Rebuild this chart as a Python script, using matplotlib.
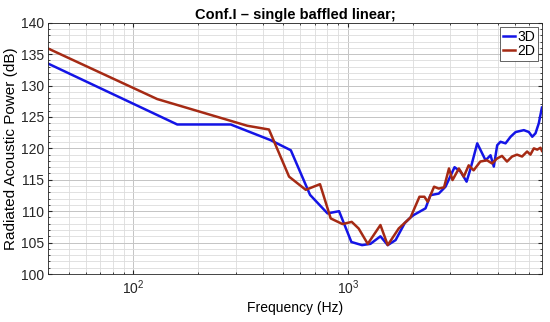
import matplotlib
matplotlib.use("Agg")
import matplotlib.pyplot as plt
from matplotlib.ticker import MultipleLocator, LogLocator, NullFormatter

plt.rcParams['font.family'] = ['Liberation Sans', 'DejaVu Sans']

f3d = [40, 160, 284, 436, 541, 665, 802, 908, 1036, 1162, 1271, 1415, 1530, 1665, 1836, 1954,
       2024, 2295, 2420, 2645, 2844, 3134, 3343, 3566, 3722, 3997, 4371, 4610, 4775, 4952,
       5130, 5415, 5717, 6035, 6590, 6955, 7213, 7469, 7738, 8000]
p3d = [133.5, 123.8, 123.8, 121.3, 119.7, 112.6, 109.65, 110.0, 105.1, 104.6, 104.8, 106.0, 104.6, 105.4, 108.1, 109.0,
       109.4, 110.45, 112.55, 112.8, 113.9, 117.0, 116.3, 114.7, 116.8, 120.8, 118.1, 118.9, 117.1, 120.5,
       121.05, 120.8, 121.85, 122.6, 122.9, 122.6, 121.85, 122.4, 124.0, 126.5]

f2d = [40, 129, 339, 428, 531, 635, 740, 830, 942, 1040, 1120, 1235, 1415, 1530, 1722, 1954,
       2151, 2268, 2350, 2516, 2645, 2800, 2952, 3066, 3283, 3460, 3647, 3845, 4131, 4437,
       4687, 4952, 5214, 5500, 5808, 6125, 6466, 6824, 7070, 7335, 7610, 7880, 8000]
p2d = [135.9, 127.85, 123.6, 123.0, 115.5, 113.4, 114.3, 108.85, 107.95, 108.3, 107.25, 104.8, 107.8, 104.6, 107.25, 109.0,
       112.3, 112.3, 111.5, 113.9, 113.6, 113.8, 116.8, 114.95, 116.8, 115.5, 117.3, 116.5, 117.9, 118.1,
       117.6, 118.4, 118.8, 117.9, 118.7, 119.0, 118.7, 119.5, 119.0, 120.0, 119.8, 120.1, 119.6]

title = "Conf.I \u2013 single baffled linear;"
xlabel = "Frequency (Hz)"
ylabel = "Radiated Acoustic Power (dB)"

fig = plt.figure(figsize=(5.5, 3.22), dpi=100)
ax = fig.add_axes([0.0873, 0.149, 0.898, 0.7805])
ax.semilogx(f3d, p3d, color='#1414E6', lw=1.8, label='3D')
ax.semilogx(f2d, p2d, color='#A52A14', lw=1.8, label='2D')
ax.set_xlim(40, 8000)
ax.set_ylim(100, 140)
ax.yaxis.set_major_locator(MultipleLocator(5))
ax.yaxis.set_minor_locator(MultipleLocator(1))
ax.xaxis.set_major_locator(LogLocator(base=10))
ax.xaxis.set_minor_locator(LogLocator(base=10, subs=range(2, 10)))
ax.xaxis.set_minor_formatter(NullFormatter())
ax.grid(True, which='major', color='#c4c4c4', lw=0.7)
ax.grid(True, which='minor', color='#dcdcdc', lw=0.6)
ax.tick_params(which='both', direction='in', labelsize=10, colors='#262626', top=True, right=True)
ax.tick_params(which='major', length=3, pad=3)
ax.tick_params(which='minor', length=1.5)
for s in ax.spines.values():
    s.set_color('#262626')
    s.set_linewidth(0.6)
ax.set_xlabel(xlabel, fontsize=10, labelpad=3)
ax.set_ylabel(ylabel, fontsize=11, labelpad=2)
ax.set_title(title, fontsize=10.5, fontweight='bold', pad=3)
leg = ax.legend(loc='upper right', fontsize=10, handlelength=0.9, handletextpad=0.15,
                borderpad=0.2, labelspacing=0.05, fancybox=False, framealpha=1, borderaxespad=0.3)
leg.get_frame().set_edgecolor('#262626')
leg.get_frame().set_linewidth(0.5)
fig.savefig("out.png", dpi=100)
